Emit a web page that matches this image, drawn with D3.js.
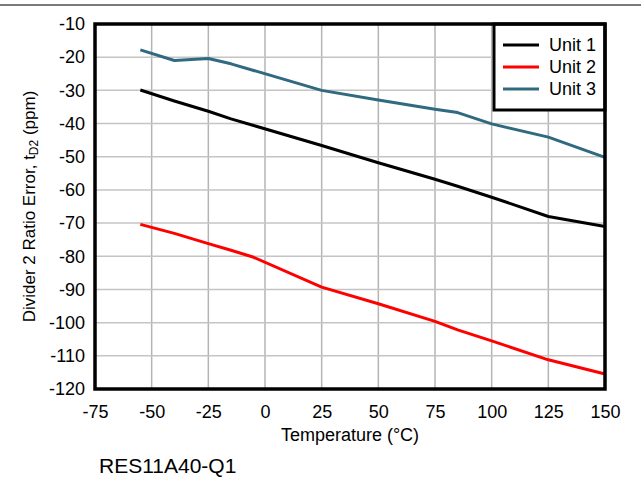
<!DOCTYPE html>
<html>
<head>
<meta charset="utf-8">
<script src="https://cdn.jsdelivr.net/npm/d3@7"></script>
<style>
  html, body { margin: 0; padding: 0; background: #fff; }
  svg { display: block; font-family: "Liberation Sans", Arial, sans-serif; }
</style>
</head>
<body>
<svg id="chart" width="641" height="483"></svg>
<script>
// Temperature sweep (°C) and measured ratio error (ppm) for each unit
const temperatures = [-55, -40, -25, -15, -5, 25, 50, 75, 85, 100, 125, 150];
const unit1 = [-29.9, -33.2, -36.3, -38.6, -40.6, -46.6, -51.8, -56.8, -58.9, -62.2, -68.0, -71.0];
const unit2 = [-70.4, -73.1, -76.2, -78.2, -80.3, -89.3, -94.3, -99.6, -102.2, -105.5, -111.2, -115.5];
const unit3 = [-17.8, -21.0, -20.4, -22.0, -24.0, -30.0, -32.9, -35.7, -36.7, -40.1, -44.1, -50.2];
const seriesNames = ["Unit 1", "Unit 2", "Unit 3"];
const seriesColors = ["#000000", "#ff0000", "#306a80"];
const xTicks = [-75, -50, -25, 0, 25, 50, 75, 100, 125, 150];
const yTicks = [-10, -20, -30, -40, -50, -60, -70, -80, -90, -100, -110, -120];

const series = [unit1, unit2, unit3].map((vals, i) => ({
  name: seriesNames[i],
  color: seriesColors[i],
  points: temperatures.map((t, j) => ({ t, v: vals[j] }))
}));

const svg = d3.select("#chart");
const plotL = 95, plotR = 605, plotT = 24, plotB = 389;
const plainNum = d => String(d);   // keep ASCII hyphen for negatives

const x = d3.scaleLinear().domain([-75, 150]).range([plotL, plotR]);
const y = d3.scaleLinear().domain([-120, -10]).range([plotB, plotT]);

// rule across the top of the figure
svg.append("line")
  .attr("x1", 0).attr("x2", 641).attr("y1", 5).attr("y2", 5)
  .attr("stroke", "#7a7a7a").attr("stroke-width", 2);

// grid
const grid = svg.append("g");
grid.selectAll("line.v").data(xTicks).join("line")
  .attr("class", "v")
  .attr("x1", d => x(d)).attr("x2", d => x(d))
  .attr("y1", plotT).attr("y2", plotB)
  .attr("stroke", "#b4b4b4").attr("stroke-width", 1.5);
grid.selectAll("line.h").data(yTicks).join("line")
  .attr("class", "h")
  .attr("x1", plotL).attr("x2", plotR)
  .attr("y1", d => y(d)).attr("y2", d => y(d))
  .attr("stroke", "#c4c4c4").attr("stroke-width", 1.5);

// axes (labels only, the frame is drawn separately)
const xAxis = svg.append("g")
  .attr("transform", `translate(0,${plotB})`)
  .call(d3.axisBottom(x).tickValues(xTicks).tickSize(0).tickPadding(16).tickFormat(plainNum));
const yAxis = svg.append("g")
  .attr("transform", `translate(${plotL},0)`)
  .call(d3.axisLeft(y).tickValues(yTicks).tickSize(0).tickPadding(10).tickFormat(plainNum));
[xAxis, yAxis].forEach(a => {
  a.select(".domain").remove();
  a.selectAll("text").attr("font-size", 18).attr("fill", "#000")
    .attr("font-family", "'Liberation Sans', Arial, sans-serif");
});

// data lines
const line = d3.line().x(d => x(d.t)).y(d => y(d.v));
svg.append("g").selectAll("path").data(series).join("path")
  .attr("d", d => line(d.points))
  .attr("fill", "none")
  .attr("stroke", d => d.color)
  .attr("stroke-width", 3)
  .attr("stroke-linejoin", "round");

// legend
const lg = svg.append("g");
lg.append("rect")
  .attr("x", 494).attr("y", plotT).attr("width", plotR - 494).attr("height", 86)
  .attr("fill", "#fff").attr("stroke", "#000").attr("stroke-width", 3);
series.forEach((s, i) => {
  const ly = 45 + i * 22;
  lg.append("line")
    .attr("x1", 503).attr("x2", 539).attr("y1", ly).attr("y2", ly)
    .attr("stroke", s.color).attr("stroke-width", 3);
  lg.append("text")
    .attr("x", 549).attr("y", ly).attr("dy", "0.36em")
    .attr("font-size", 18).text(s.name);
});

// plot frame
svg.append("rect")
  .attr("x", plotL).attr("y", plotT).attr("width", plotR - plotL).attr("height", plotB - plotT)
  .attr("fill", "none").attr("stroke", "#000").attr("stroke-width", 3.5);

// axis titles
svg.append("text")
  .attr("x", (plotL + plotR) / 2).attr("y", 441)
  .attr("text-anchor", "middle").attr("font-size", 18)
  .text("Temperature (°C)");

const yt = svg.append("text")
  .attr("transform", `translate(35,${(plotT + plotB) / 2}) rotate(-90)`)
  .attr("text-anchor", "middle").attr("font-size", 17);
yt.append("tspan").text("Divider 2 Ratio Error, t");
yt.append("tspan").attr("font-size", 12).attr("dy", 3).text("D2");
yt.append("tspan").attr("dy", -3).text(" (ppm)");

svg.append("text")
  .attr("x", 99).attr("y", 473)
  .attr("font-size", 21)
  .text("RES11A40-Q1");
</script>
</body>
</html>
